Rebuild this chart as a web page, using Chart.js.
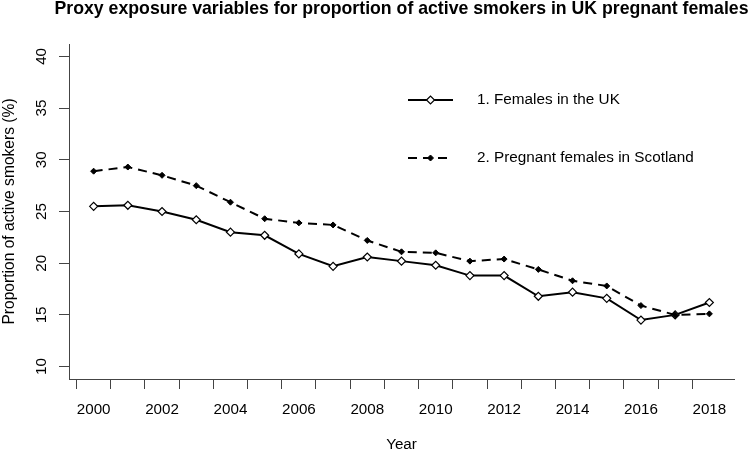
<!DOCTYPE html>
<html>
<head>
<meta charset="utf-8">
<script src="https://cdn.jsdelivr.net/npm/chart.js@4.4.0/dist/chart.umd.min.js"></script>
<style>
  html, body { margin: 0; padding: 0; background: #fff; }
  #chart { display: block; }
</style>
</head>
<body>
<canvas id="chart" width="750" height="450"></canvas>
<script>
// --- data ---
const years = [2000, 2001, 2002, 2003, 2004, 2005, 2006, 2007, 2008, 2009,
               2010, 2011, 2012, 2013, 2014, 2015, 2016, 2017, 2018];
const ukFemales = [25.5, 25.6, 25.0, 24.2, 23.0, 22.7, 20.9, 19.7, 20.6, 20.2,
                   19.8, 18.8, 18.8, 16.8, 17.2, 16.6, 14.5, 15.0, 16.2];
const scotlandPregnant = [28.9, 29.3, 28.5, 27.5, 25.9, 24.3, 23.9, 23.7, 22.2, 21.1,
                          21.0, 20.2, 20.4, 19.4, 18.3, 17.8, 15.9, 15.0, 15.1];
const xLabelYears = [2000, 2002, 2004, 2006, 2008, 2010, 2012, 2014, 2016, 2018];
const yTickValues = [10, 15, 20, 25, 30, 35, 40];
const seriesNames = ['1. Females in the UK', '2. Pregnant females in Scotland'];

const FONT = '"Liberation Sans", Arial, Helvetica, sans-serif';
const AXIS_COLOR = '#444';

// legend drawn inside the plot, like R's legend()
const plotLegend = {
    id: 'plotLegend',
    afterDatasetsDraw(chart) {
        const ctx = chart.ctx;
        const rows = [100, 158];
        chart.data.datasets.forEach((ds, i) => {
            const y = rows[i];
            ctx.save();
            ctx.strokeStyle = ds.borderColor;
            ctx.lineWidth = ds.borderWidth;
            ctx.setLineDash(ds.borderDash || []);
            ctx.beginPath();
            ctx.moveTo(408, y);
            ctx.lineTo(453, y);
            ctx.stroke();
            ctx.setLineDash([]);
            ctx.fillStyle = ds.pointBackgroundColor;
            ctx.strokeStyle = ds.pointBorderColor;
            ctx.lineWidth = ds.pointBorderWidth;
            Chart.helpers.drawPoint(ctx, {
                pointStyle: ds.pointStyle,
                radius: ds.pointRadius,
                borderWidth: ds.pointBorderWidth,
                rotation: 0
            }, 430.5, y);
            ctx.fillStyle = '#000';
            ctx.font = '15.3px ' + FONT;
            ctx.textBaseline = 'middle';
            ctx.textAlign = 'left';
            ctx.fillText(ds.label, 477, y);
            ctx.restore();
        });
    }
};

// R centres the main title over the plot region, and it may be wider than it
const titleOverPlot = {
    id: 'titleOverPlot',
    afterLayout(chart) {
        const t = chart.titleBlock;
        if (!t) return;
        const mid = (chart.chartArea.left + chart.chartArea.right) / 2;
        t.left = mid - 375;
        t.right = mid + 375;
        t.width = 750;
    }
};

new Chart(document.getElementById('chart').getContext('2d'), {
    type: 'line',
    data: {
        datasets: [{
            label: seriesNames[0],
            data: years.map((y, i) => ({ x: y, y: ukFemales[i] })),
            borderColor: '#000',
            borderWidth: 2,
            pointStyle: 'rectRot',
            pointRadius: 4,
            pointBackgroundColor: '#fff',
            pointBorderColor: '#000',
            pointBorderWidth: 1.2,
            tension: 0,
            order: 2
        }, {
            label: seriesNames[1],
            data: years.map((y, i) => ({ x: y, y: scotlandPregnant[i] })),
            borderColor: '#000',
            borderWidth: 2,
            borderDash: [9, 6],
            pointStyle: 'rectRot',
            pointRadius: 3,
            pointBackgroundColor: '#000',
            pointBorderColor: '#000',
            pointBorderWidth: 1,
            tension: 0,
            order: 1
        }]
    },
    options: {
        responsive: false,
        animation: false,
        devicePixelRatio: 1,
        layout: { padding: { left: 0, right: 16, top: 0, bottom: 0 } },
        plugins: {
            legend: { display: false },
            tooltip: { enabled: false },
            title: {
                display: true,
                fullSize: false,
                text: 'Proxy exposure variables for proportion of active smokers in UK pregnant females',
                color: '#000',
                font: { family: FONT, size: 17.7, weight: 'bold', lineHeight: 1 },
                padding: { top: 0, bottom: 26.3 }
            }
        },
        scales: {
            x: {
                type: 'linear',
                min: 1999.28,
                max: 2018.72,
                afterBuildTicks: (scale) => {
                    const ticks = [];
                    years.forEach(y => {
                        ticks.push({ value: y - 0.5 });
                        if (xLabelYears.includes(y)) ticks.push({ value: y });
                    });
                    scale.ticks = ticks;
                },
                afterFit: (scale) => { scale.height = 71; },
                grid: {
                    drawOnChartArea: false,
                    tickLength: 10,
                    tickWidth: 1,
                    tickColor: (c) => (c.tick && Number.isInteger(c.tick.value)) ? 'rgba(0,0,0,0)' : AXIS_COLOR
                },
                border: { color: AXIS_COLOR, width: 1 },
                ticks: {
                    autoSkip: false,
                    maxRotation: 0,
                    padding: 12,
                    color: '#000',
                    font: { family: FONT, size: 15.2 },
                    callback: (v) => xLabelYears.includes(v) ? String(v) : ''
                },
                title: {
                    display: true,
                    text: 'Year',
                    color: '#000',
                    font: { family: FONT, size: 15.2, lineHeight: 1 },
                    padding: { top: 0, bottom: -2 }
                }
            },
            y: {
                min: 8.8,
                max: 41.2,
                afterBuildTicks: (scale) => {
                    scale.ticks = yTickValues.map(v => ({ value: v }));
                },
                afterFit: (scale) => { scale.width = 69; },
                grid: {
                    drawOnChartArea: false,
                    tickLength: 10,
                    tickWidth: 1,
                    tickColor: AXIS_COLOR
                },
                border: { color: AXIS_COLOR, width: 1 },
                ticks: {
                    minRotation: 90,
                    maxRotation: 90,
                    crossAlign: 'center',
                    padding: 9,
                    color: '#000',
                    font: { family: FONT, size: 15.2 }
                },
                title: {
                    display: true,
                    text: 'Proportion of active smokers (%)',
                    color: '#000',
                    font: { family: FONT, size: 15.6, lineHeight: 1.2 },
                    padding: { top: 0, bottom: 0 }
                }
            }
        }
    },
    plugins: [plotLegend, titleOverPlot]
});
</script>
</body>
</html>
